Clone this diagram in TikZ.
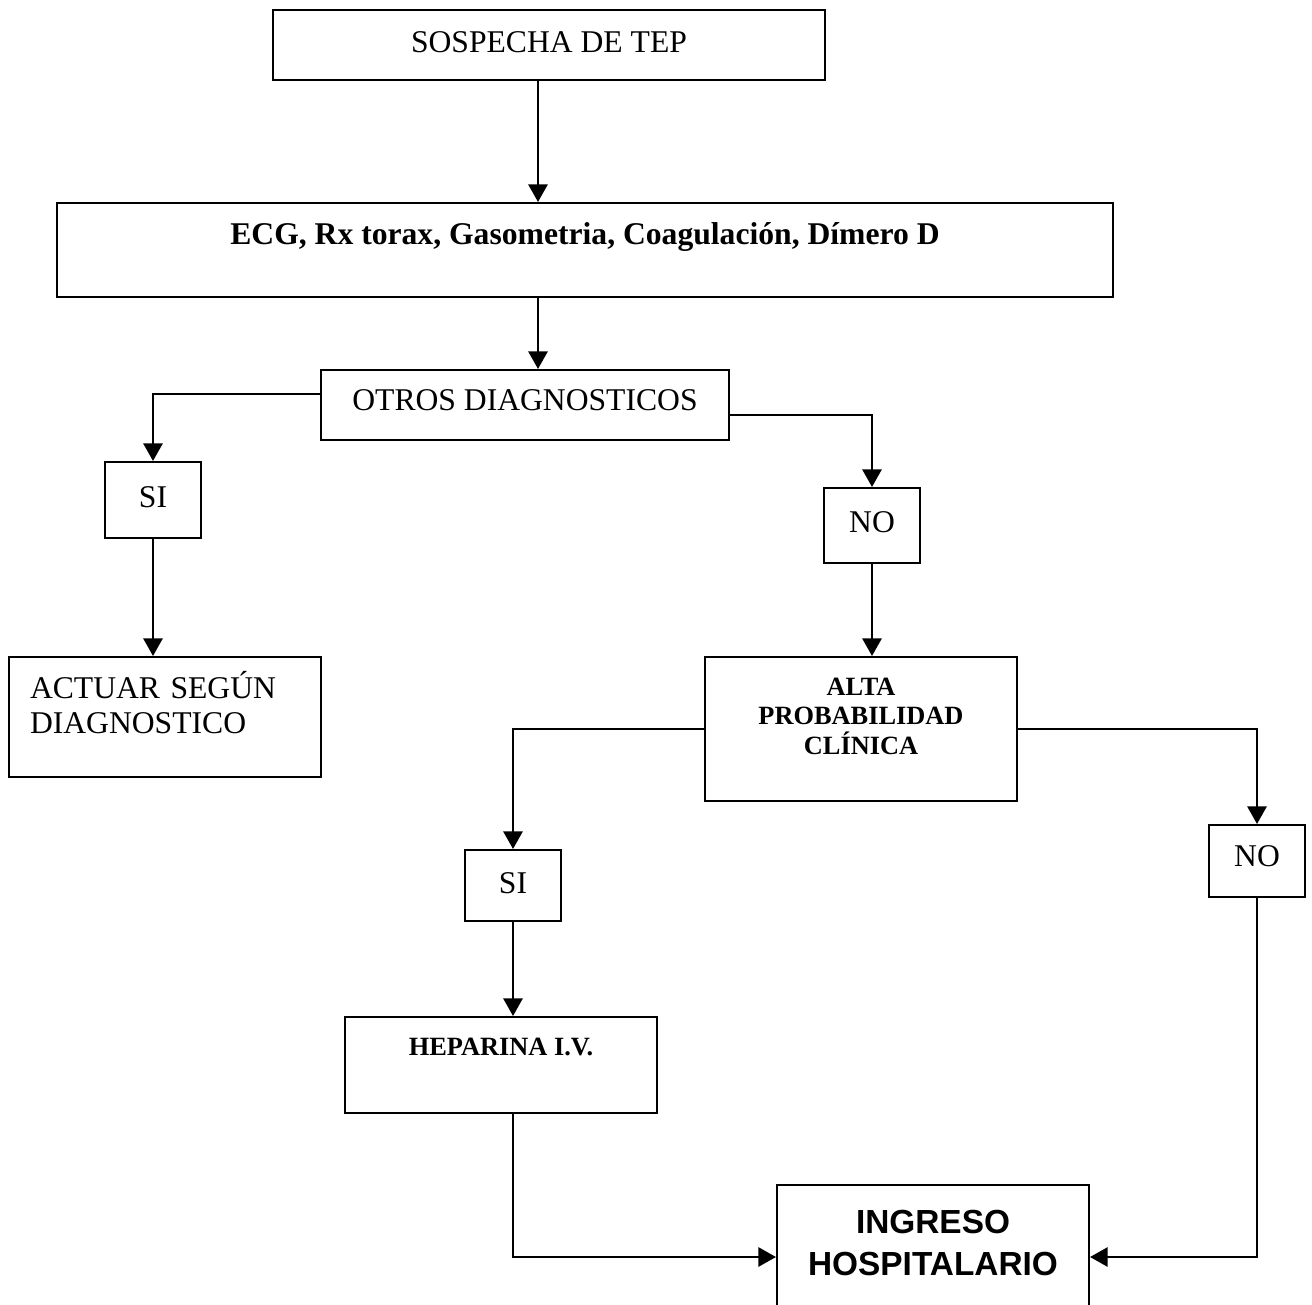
\documentclass[tikz,border=0pt]{standalone}
\usepackage{fontspec}
\setmainfont{Liberation Serif}
\newfontfamily\sansfont{Liberation Sans}
\usetikzlibrary{arrows.meta}

\begin{document}
\begin{tikzpicture}[
  box/.style = {draw, line width=1.2pt, inner sep=0pt, text height=11.9pt, font=\fontsize{18}{20}\selectfont},
  boldbox/.style = {box, text height=10pt, font=\fontsize{15}{17}\selectfont\bfseries},
  arr/.style = {-{Triangle[length=10pt,width=11pt]}, line width=1pt}]

\useasboundingbox (0,0) rectangle (26.24,-26.10);
\clip (0,0) rectangle (26.24,-26.10);
\coordinate (axis) at (10.76,0);

% boxes
\node[box, minimum width=11.04cm, minimum height=1.40cm, text depth=3.4pt] (sospecha) at (10.98,-0.90) {SOSPECHA DE TEP};
\node[box, minimum width=21.12cm, minimum height=1.88cm, text height=12pt, text depth=18.2pt, font=\fontsize{18}{20}\selectfont\bfseries] (ecg) at (11.70,-5.00) {ECG, Rx torax, Gasometria, Coagulación, Dímero D};
\node[box, minimum width=8.16cm, minimum height=1.40cm, text depth=5.7pt] (otros) at (10.50,-8.10) {OTROS DIAGNOSTICOS};
\node[box, minimum width=1.92cm, minimum height=1.52cm, text depth=3.4pt] (si1) at (3.06,-10.00) {SI};
\node[box, minimum width=1.92cm, minimum height=1.50cm, text depth=4pt] (no1) at (17.44,-10.51) {NO};
\node[box, minimum width=6.24cm, minimum height=2.40cm, inner xsep=0.42cm, text width=5.40cm, align=left, text depth=33pt] (actuar) at (3.30,-14.34) {ACTUAR SEGÚN\\DIAGNOSTICO};
\node[boldbox, minimum width=6.24cm, minimum height=2.88cm, align=center, text height=44pt, text depth=14.6pt] (alta) at (17.22,-14.58) {ALTA\\PROBABILIDAD\\CLÍNICA};
\node[box, minimum width=1.92cm, minimum height=1.42cm, text depth=2.8pt] (si2) at (10.26,-17.71) {SI};
\node[box, minimum width=1.92cm, minimum height=1.44cm, text depth=5.7pt] (no2) at (25.14,-17.22) {NO};
\node[boldbox, minimum width=6.24cm, minimum height=1.92cm, text depth=20.5pt] (heparina) at (10.02,-21.30) {HEPARINA I.V.};
\node[box, minimum width=6.24cm, minimum height=2.88cm, align=center, text height=37.6pt, text depth=16pt, font=\fontsize{19}{24}\selectfont\sansfont\bfseries] (ingreso) at (18.66,-25.14) {INGRESO\\HOSPITALARIO};

% arrows
\draw[arr] (sospecha.south -| axis) -- (ecg.north -| axis);
\draw[arr] (ecg.south -| axis) -- (otros.north -| axis);
\draw[arr] ([yshift=0.22cm]otros.west) -| (si1.north);
\draw[arr] ([yshift=-0.20cm]otros.east) -| (no1.north);
\draw[arr] (si1.south) -- (si1.south |- actuar.north);
\draw[arr] (no1.south) -- (no1.south |- alta.north);
\draw[arr] (alta.west) -| (si2.north);
\draw[arr] (alta.east) -| (no2.north);
\draw[arr] (si2.south) -- (si2.south |- heparina.north);
\draw[arr] (heparina.south -| si2.south) |- (ingreso.west);
\draw[arr] (no2.south) |- (ingreso.east);
\end{tikzpicture}
\end{document}
